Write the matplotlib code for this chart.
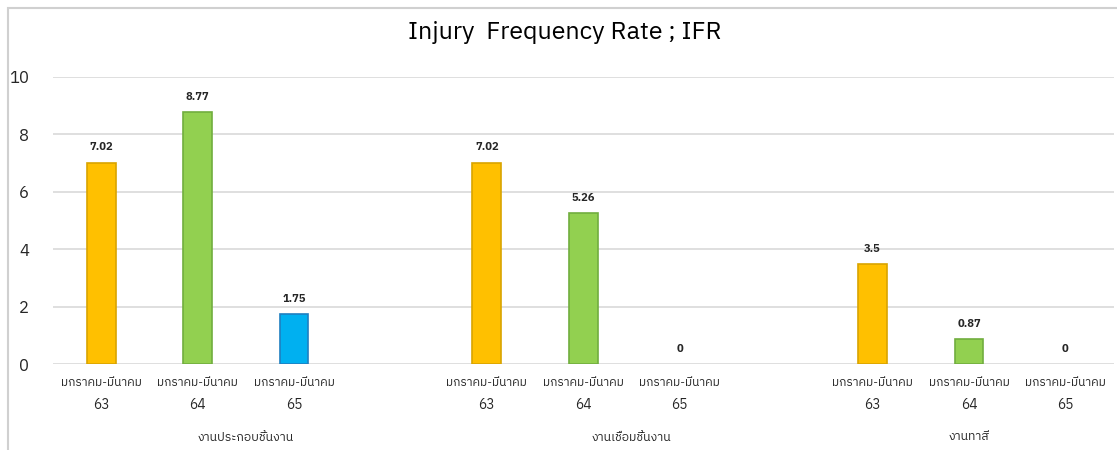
import matplotlib
matplotlib.use("Agg")
import matplotlib.pyplot as plt
from matplotlib import font_manager
from matplotlib.patches import Rectangle

# pick up any installed font that can draw Thai
thai = sorted(set(f.name for f in font_manager.fontManager.ttflist
                  if 'Thai' in f.name or 'Sarabun' in f.name or 'Loma' in f.name or 'Garuda' in f.name))

groups = ['งานประกอบชิ้นงาน', 'งานเชื่อมชิ้นงาน', 'งานทาสี']
period = 'มกราคม-มีนาคม'
years = ['63', '64', '65']
values = [[7.02, 8.77, 1.75],
          [7.02, 5.26, 0],
          [3.5, 0.87, 0]]
labels = [['7.02', '8.77', '1.75'],
          ['7.02', '5.26', '0'],
          ['3.5', '0.87', '0']]
fills = ['#FFC000', '#92D050', '#00B0F0']
edges = ['#D9A400', '#71AE3E', '#1F7FC0']

plt.rcParams['font.family'] = thai + ['DejaVu Sans']

fig = plt.figure(figsize=(11.17, 4.5), dpi=100)
ax = fig.add_axes([0.0474, 0.191, 0.9496, 0.638])

# each group takes four slots, the last one of the chart only three
group_start = [0, 4, 8]
group_mid = [1.5, 5.5, 9]
for g, grp in enumerate(groups):
    for i in range(3):
        x = group_start[g] + i
        v = values[g][i]
        if v > 0:
            ax.bar(x, v, width=0.3, color=fills[i], edgecolor=edges[i], linewidth=1.2, zorder=3)
        ax.text(x, v + 0.35, labels[g][i], ha='center', va='bottom', fontsize=8, fontweight='bold', color='#262626')
        ax.text(x, -0.67, period, ha='center', va='center', fontsize=8.6, color='#262626')
        ax.text(x, -1.43, years[i], ha='center', va='center', fontsize=10, color='#262626')
    ax.text(group_mid[g], -2.55, grp, ha='center', va='center', fontsize=8.8, color='#262626')

ax.set_xlim(-0.5, 10.5)
ax.set_ylim(0, 10)
ax.set_yticks(range(0, 11, 2))
ax.tick_params(axis='y', length=0, pad=17, labelsize=12, colors='#262626')
ax.set_xticks([])
ax.grid(axis='y', color='#D9D9D9', linewidth=1.2, zorder=0)
for s in ax.spines.values():
    s.set_visible(False)

fig.text(0.506, 0.927, 'Injury  Frequency Rate ; IFR', ha='center', va='center',
         fontsize=18, fontweight='normal', color='#000000')

# outer chart frame
fig.patches.append(Rectangle((8 / 1117, -0.1), 1.1, 1 - 8 / 450 + 0.1, transform=fig.transFigure,
                             fill=False, edgecolor='#D0D0D0', linewidth=1.5))

fig.savefig('out.png', dpi=100)
